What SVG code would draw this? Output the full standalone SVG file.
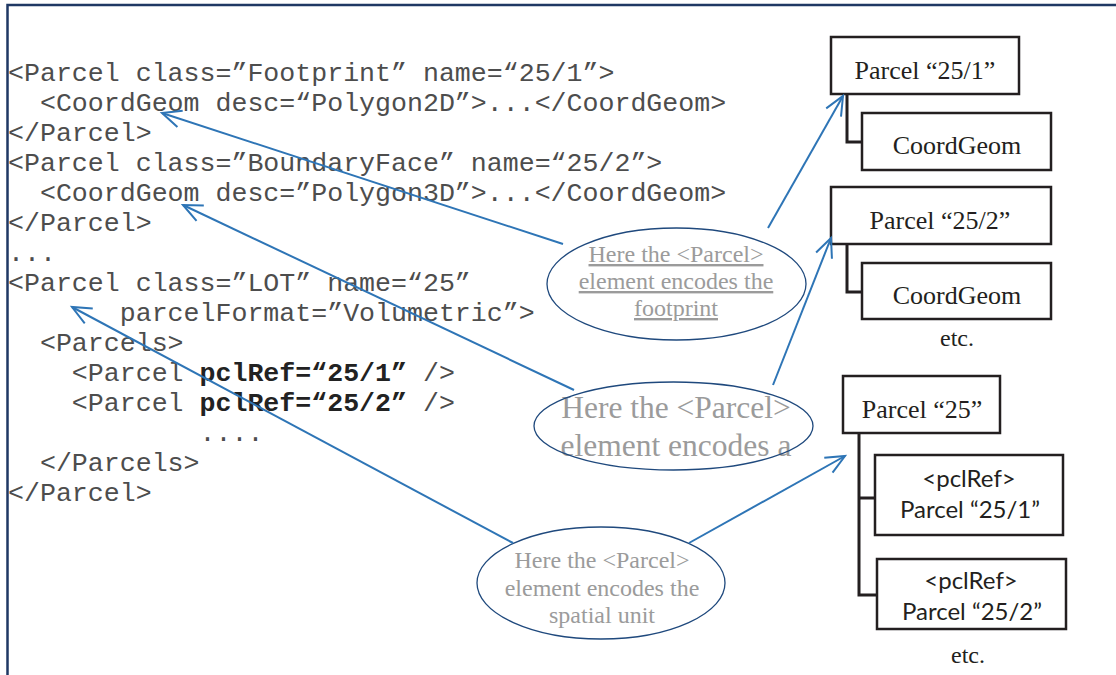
<svg xmlns="http://www.w3.org/2000/svg" width="1116" height="675" viewBox="0 0 1116 675">
<style>
.code{font-family:"Liberation Mono","Courier New",monospace;font-size:26.6px;fill:#4d4d4d;white-space:pre}
.b{font-weight:bold;fill:#222}
.box{fill:#fff;stroke:#231f20;stroke-width:2.5}
.tr{font-family:"Liberation Serif","Times New Roman",serif;font-size:26px;fill:#231f20;text-anchor:middle}
.cal{font-family:Lato,"Noto Sans",sans-serif;font-size:24px;fill:#231f20;text-anchor:middle}
.tree{fill:none;stroke:#231f20;stroke-width:3}
.ell{fill:none;stroke:#1f497d;stroke-width:1.3}
.note{font-family:"Liberation Serif","Times New Roman",serif;font-size:24px;fill:#9b9b9b;text-anchor:middle}
.arr{fill:none;stroke:#2e75b6;stroke-width:2;marker-end:url(#ah)}
</style>
<defs>
<marker id="ah" markerUnits="userSpaceOnUse" markerWidth="24" markerHeight="24" refX="20" refY="10" orient="auto" viewBox="0 0 24 20">
<path d="M1,1.5 L20,10 L1,18.5" fill="none" stroke="#2e75b6" stroke-width="2"/>
</marker>
</defs>
<rect width="1116" height="675" fill="#fff"/>
<g id="frame"><path d="M7.5,675 V5 H1116" fill="none" stroke="#1f3864" stroke-width="2.5"/></g>

<g id="code">
<text class="code" x="8" y="81">&lt;Parcel class=”Footprint” name=“25/1”&gt;</text>
<text class="code" x="8" y="111">  &lt;CoordGeom desc=“Polygon2D”&gt;...&lt;/CoordGeom&gt;</text>
<text class="code" x="8" y="141">&lt;/Parcel&gt;</text>
<text class="code" x="8" y="171">&lt;Parcel class=”BoundaryFace” name=“25/2”&gt;</text>
<text class="code" x="8" y="201">  &lt;CoordGeom desc=”Polygon3D”&gt;...&lt;/CoordGeom&gt;</text>
<text class="code" x="8" y="231">&lt;/Parcel&gt;</text>
<text class="code" x="8" y="261">...</text>
<text class="code" x="8" y="291">&lt;Parcel class=”LOT” name=“25”</text>
<text class="code" x="8" y="321">       parcelFormat=”Volumetric”&gt;</text>
<text class="code" x="8" y="351">  &lt;Parcels&gt;</text>
<text class="code" x="8" y="381">    &lt;Parcel <tspan class="b">pclRef=“25/1”</tspan> /&gt;</text>
<text class="code" x="8" y="411">    &lt;Parcel <tspan class="b">pclRef=“25/2”</tspan> /&gt;</text>
<text class="code" x="8" y="441">            ....</text>
<text class="code" x="8" y="471">  &lt;/Parcels&gt;</text>
<text class="code" x="8" y="501">&lt;/Parcel&gt;</text>
</g>

<g id="tree-lines">
<path class="tree" d="M847,94 V142 H862"/>
<path class="tree" d="M847,244 V292 H862"/>
<path class="tree" d="M859,433 V595 H877 M859,498 H875"/>
</g>

<g id="p251"><rect class="box" x="831" y="37" width="188" height="57"/><text class="tr" x="925" y="79">Parcel “25/1”</text></g>
<g id="cg1"><rect class="box" x="862" y="113" width="189" height="57"/><text class="tr" x="957" y="154">CoordGeom</text></g>
<g id="p252"><rect class="box" x="831" y="187" width="220" height="57"/><text class="tr" x="940" y="229">Parcel “25/2”</text></g>
<g id="cg2"><rect class="box" x="862" y="263" width="189" height="56"/><text class="tr" x="957" y="304">CoordGeom</text></g>
<g id="etc1"><text class="tr" x="957" y="346" style="font-size:24px">etc.</text></g>
<g id="p25"><rect class="box" x="843" y="376" width="157" height="57"/><text class="tr" x="922" y="418">Parcel “25”</text></g>
<g id="ref1"><rect class="box" x="875" y="455" width="188" height="80"/><text class="cal" x="969" y="487">&lt;pclRef&gt;</text><text class="cal" x="970" y="518">Parcel “25/1”</text></g>
<g id="ref2"><rect class="box" x="877" y="559" width="189" height="70"/><text class="cal" x="971" y="589">&lt;pclRef&gt;</text><text class="cal" x="972" y="620">Parcel “25/2”</text></g>
<g id="etc2"><text class="tr" x="968" y="663" style="font-size:24px">etc.</text></g>

<g id="note-footprint">
<ellipse class="ell" cx="676.5" cy="284" rx="129.5" ry="56"/>
<text class="note" x="676" y="262" text-decoration="underline">Here the &lt;Parcel&gt;</text>
<text class="note" x="676" y="289" text-decoration="underline">element encodes the</text>
<text class="note" x="676" y="316" text-decoration="underline">footprint</text>
</g>
<g id="note-volumetric">
<text class="note" x="676" y="418" style="font-size:31.5px">Here the &lt;Parcel&gt;</text>
<text class="note" x="676" y="456" style="font-size:31.5px">element encodes a</text>
<ellipse class="ell" cx="673.5" cy="426" rx="139.5" ry="44"/>
</g>
<g id="note-spatial">
<ellipse class="ell" cx="601" cy="583" rx="124" ry="56"/>
<text class="note" x="602" y="568">Here the &lt;Parcel&gt;</text>
<text class="note" x="602" y="596">element encodes the</text>
<text class="note" x="602" y="623">spatial unit</text>
</g>

<g id="connectors">
<line class="arr" x1="563" y1="244" x2="162" y2="113"/>
<line class="arr" x1="768" y1="228" x2="843" y2="96"/>
<line class="arr" x1="574" y1="390" x2="183" y2="205"/>
<line class="arr" x1="773" y1="385" x2="831" y2="238"/>
<line class="arr" x1="513" y1="543" x2="72" y2="307"/>
<line class="arr" x1="689" y1="543" x2="845" y2="456"/>
</g>
</svg>
